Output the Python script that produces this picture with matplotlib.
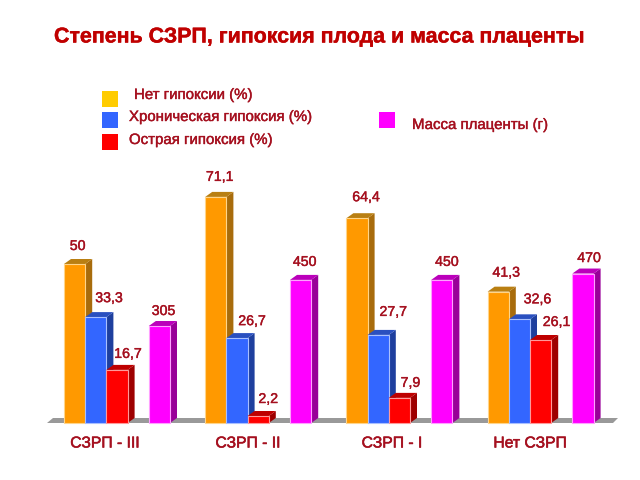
import matplotlib
matplotlib.use('Agg')
import matplotlib.pyplot as plt
import matplotlib.patheffects as pe
from matplotlib.patches import Rectangle

# ========= data ==========================================
groups = ['СЗРП - III', 'СЗРП - II', 'СЗРП - I', 'Нет СЗРП']
no_hypoxia = [50, 71.1, 64.4, 41.3]
chronic = [33.3, 26.7, 27.7, 32.6]
acute = [16.7, 2.2, 7.9, 26.1]
placenta = [305, 450, 450, 470]

title = 'Степень СЗРП, гипоксия плода и масса плаценты'
legend_names = ['Нет гипоксии (%)', 'Хроническая гипоксия (%)', 'Острая гипоксия (%)', 'Масса плаценты (г)']

# ========= layout ========================================
W, H = 640, 480
BASE_PX = 423          # baseline, pixels from top
PX_PER_PCT = 3.18
GROUP_PX = 141.2
BAR = 21.2 / GROUP_PX
DX = 7 / GROUP_PX
DY = 5 / PX_PER_PCT
TEXT = '#A5101F'

# (front, side, top, edge)
ORANGE = ('#FF9900', '#A86C0C', '#B97F12', '#FFD58A')
BLUE = ('#3366FF', '#1E3F9E', '#2A50C0', '#A9C0FF')
RED = ('#FF0000', '#9E0000', '#BE0000', '#FF9A9A')
MAGENTA = ('#FF00FF', '#990099', '#BB00BB', '#FFA0FF')

# label offsets from the bar top centre, pixels (dx, up)
off_no = [(3, 18), (4, 20), (9, 21), (8, 19)]
off_chr = [(13, 19), (15, 17), (15, 23), (18, 20)]
off_acu = [(11, 16), (10, 17), (11, 15), (16, 18)]
off_pla = [(4, 15), (4, 18), (5, 18), (6, 15.5)]
group_label_x = [105, 248, 392, 530]


def px_text(x, y, s, size, **kw):
    return fig.text(x / W, 1 - y / H, s, fontsize=size, color=kw.pop('color', TEXT),
                    va='center', **kw)


def bar3d(a, x, h, colors, dy, z):
    front, side, top, edge = colors
    a.bar(x, h, BAR, align='edge', color=front, edgecolor=edge, linewidth=0.8, zorder=z + 0.2)
    a.fill([x + BAR, x + BAR + DX, x + BAR + DX, x + BAR], [0, dy, h + dy, h],
           color=side, lw=0, zorder=z)
    a.fill([x, x + DX, x + BAR + DX, x + BAR], [h, h + dy, h + dy, h],
           color=top, lw=0, zorder=z)


fig = plt.figure(figsize=(6.4, 4.8), dpi=100)
plt.rcParams['font.family'] = ['Liberation Sans', 'DejaVu Sans']
ax = fig.add_axes([0, 0, 1, 1])
ax.set_xlim(-64 / GROUP_PX, (W - 64) / GROUP_PX)
ax.set_ylim(-(H - BASE_PX) / PX_PER_PCT, BASE_PX / PX_PER_PCT)
ax.axis('off')

# grams share the axes at a 10:1 scale
ax2 = ax.twinx()
ax2.set_ylim(ax.get_ylim()[0] * 10, ax.get_ylim()[1] * 10)
ax2.axis('off')

# floor
ax.fill([-17 / GROUP_PX, -11 / GROUP_PX, 554 / GROUP_PX, 549 / GROUP_PX], [0, 5 / PX_PER_PCT, 5 / PX_PER_PCT, 0],
        color='#999999', lw=0, zorder=1)

for i in range(len(groups)):
    z = 2 + i * 10
    bar3d(ax, i, no_hypoxia[i], ORANGE, DY, z)
    bar3d(ax, i + BAR, chronic[i], BLUE, DY, z + 1)
    bar3d(ax, i + 2 * BAR, acute[i], RED, DY, z + 2)
    bar3d(ax2, i + 4 * BAR, placenta[i], MAGENTA, DY * 10, z)

    for a, slot, val, off in [(ax, 0, no_hypoxia[i], off_no[i]), (ax, 1, chronic[i], off_chr[i]),
                              (ax, 2, acute[i], off_acu[i]), (ax2, 4, placenta[i], off_pla[i])]:
        s = str(val).replace('.', ',')
        vt = a.annotate(s, (i + (slot + 0.5) * BAR, val), xytext=(off[0] * 0.72, off[1] * 0.72),
                        textcoords='offset points', ha='center', va='center', fontsize=10.2,
                        color=TEXT, zorder=100)
        vt.set_path_effects([pe.withStroke(linewidth=0.3, foreground=TEXT)])

    gt = px_text(group_label_x[i], 443, groups[i], 11.3, ha='center')
    gt.set_path_effects([pe.withStroke(linewidth=0.4, foreground=TEXT)])

# title and legend
t = px_text(320, 37, title, 15.4, ha='center', weight='bold', color='#C00000')
t.set_path_effects([pe.withStroke(linewidth=0.3, foreground='#C00000')])

swatches = [(102, 91, '#FFCC00'), (102, 112, '#3366FF'), (102, 134, '#FF0000'), (379, 112, '#FF00FF')]
for x, y, c in swatches:
    fig.patches.append(Rectangle((x / W, 1 - (y + 15.5) / H), 15.5 / W, 15.5 / H, color=c, lw=0,
                                 transform=fig.transFigure))

legend_pos = [(134, 95), (129, 117), (129, 140), (412, 125)]
for (x, y), s in zip(legend_pos, legend_names):
    lt = px_text(x, y, s, 10.8, ha='left')
    lt.set_path_effects([pe.withStroke(linewidth=0.3, foreground=TEXT)])

fig.savefig('out.png', dpi=100)
